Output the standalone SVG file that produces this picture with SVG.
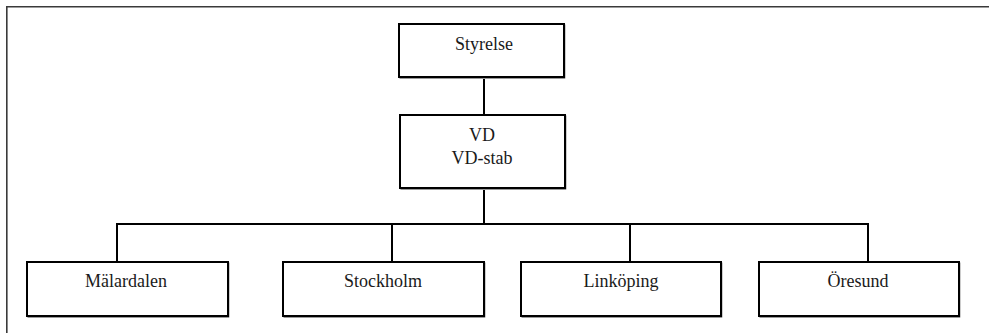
<svg xmlns="http://www.w3.org/2000/svg" width="989" height="333" viewBox="0 0 989 333">
  <style>
    .box { fill: #ffffff; stroke: #000000; stroke-width: 2; }
    .shadow { fill: none; stroke: #9a9a9a; stroke-width: 1; }
    .lbl { font-family: "Liberation Serif", "Times New Roman", serif; font-size: 18px; fill: #1a1a1a; text-anchor: middle; }
    .conn { fill: none; stroke: #000000; stroke-width: 2; }
    .frame { fill: none; stroke: #3a3a3a; stroke-width: 1.6; }
  </style>
  <rect width="989" height="333" fill="#ffffff"/>

  <!-- page frame: top and left edges only -->
  <path class="frame" d="M6.8,333 V6.8 H989"/>

  <!-- connectors -->
  <g id="connectors">
    <path class="conn" d="M484,77 V114"/>
    <path class="conn" d="M484,188 V224"/>
    <path class="conn" d="M117,261 V224 H868 V261"/>
    <path class="conn" d="M392,224 V261"/>
    <path class="conn" d="M630,224 V261"/>
  </g>

  <g id="styrelse">
    <path class="shadow" d="M565,24.5 V78.5 H399.5"/>
    <rect class="box" x="399" y="24" width="165" height="53"/>
    <text class="lbl" x="484" y="50">Styrelse</text>
  </g>

  <g id="vd">
    <path class="shadow" d="M566,115.5 V189.5 H400.5"/>
    <rect class="box" x="400" y="115" width="165" height="73"/>
    <text class="lbl" x="482" y="141">VD</text>
    <text class="lbl" x="482" y="164">VD-stab</text>
  </g>

  <g id="malardalen">
    <path class="shadow" d="M229,262.5 V317.5 H27.5"/>
    <rect class="box" x="27" y="262" width="201" height="54"/>
    <text class="lbl" x="126" y="287">Mälardalen</text>
  </g>

  <g id="stockholm">
    <path class="shadow" d="M485,262.5 V317.5 H283.5"/>
    <rect class="box" x="283" y="262" width="201" height="54"/>
    <text class="lbl" x="383" y="287">Stockholm</text>
  </g>

  <g id="linkoping">
    <path class="shadow" d="M722,262.5 V317.5 H521.5"/>
    <rect class="box" x="521" y="262" width="200" height="54"/>
    <text class="lbl" x="621" y="287">Linköping</text>
  </g>

  <g id="oresund">
    <path class="shadow" d="M960,262.5 V317.5 H759.5"/>
    <rect class="box" x="759" y="262" width="200" height="54"/>
    <text class="lbl" x="858" y="287">Öresund</text>
  </g>
</svg>
